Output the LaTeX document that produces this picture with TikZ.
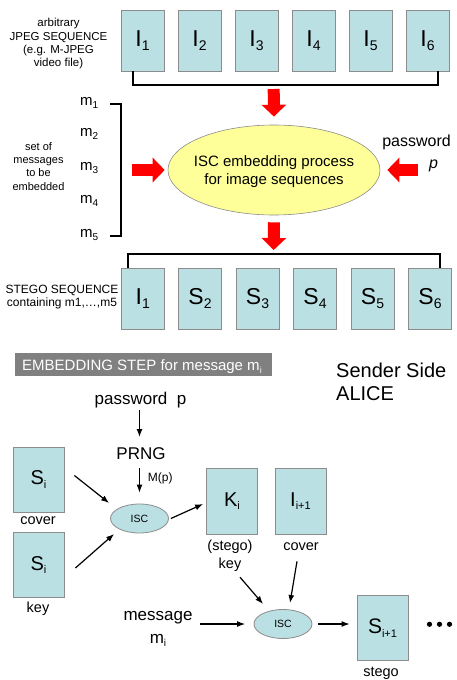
\documentclass[tikz,border=0pt]{standalone}
\usepackage{fontspec}
\setmainfont{Liberation Sans}
\usetikzlibrary{shapes.geometric,arrows.meta,calc}
\definecolor{boxfill}{HTML}{BBE0E3}
\definecolor{boxline}{HTML}{8C8C8C}
\definecolor{ellfill}{HTML}{FFFF99}
\definecolor{bannergray}{HTML}{808080}
\newcommand\fsz[1]{\fontsize{#1}{#1}\selectfont}
\newcommand\lbl[5]{{\fsz{#1}#2\raisebox{-#3pt}{\fsz{#4}#5}}}
\begin{document}
\begin{tikzpicture}[x=1pt,y=-1pt,
  txt/.style={inner sep=0pt, anchor=base},
  bigbox/.style={draw=boxline, fill=boxfill, line width=0.8pt, minimum width=43pt, minimum height=61pt, inner sep=0pt},
  smallbox/.style={draw=boxline, fill=boxfill, line width=0.8pt, minimum width=51pt, minimum height=65pt, inner sep=0pt},
  bracket/.style={line width=2pt},
  redblock/.style={draw=red, line width=12pt, -{Triangle[length=12pt,width=24pt]}},
  arr/.style={line width=1.2pt, -{Latex[length=8pt,width=6pt]}},
  iscell/.style={ellipse, draw=boxline, fill=boxfill, line width=0.8pt, minimum width=58pt, minimum height=29pt, inner sep=0pt, font=\fsz{10.5}},
  banner/.style={fill=bannergray, minimum width=257pt, minimum height=23pt, inner sep=0pt}
]
\useasboundingbox (0,0) rectangle (456,680);

% ---------- top sequence ----------
\foreach \i/\x in {1/142.5,2/199.5,3/256.5,4/313.5,5/370.5,6/427.5}
  \node[bigbox] (t\i) at (\x,40.5) {\lbl{23}{I}{4}{14}{\i}};
\draw[bracket] ([xshift=-10pt]t1.south) -- ++(0,14) -| ([xshift=10pt]t6.south);

\node[txt] (a1) at (58.5,27) {\fsz{11.5}arbitrary};
\node[txt] (a2) at (58.5,40.3) {\fsz{11.5}JPEG SEQUENCE};
\node[txt] (a3) at (58.5,53.6) {\fsz{11.5}(e.g. M-JPEG};
\node[txt] (a4) at (58.5,66.9) {\fsz{11.5}video file)};

% ---------- messages ----------
\foreach \k/\y in {1/105,2/136.7,3/170.7,4/203,5/237}
  \node[txt, anchor=base west] (m\k) at (80,\y) {\lbl{15}{m}{3}{10}{\k}};
\draw[bracket] (110,104) -- (121,104) -- (121,236) -- (110,236);
\node[txt] (b1) at (38.5,150) {\fsz{11}set of};
\node[txt] (b2) at (38.5,163.4) {\fsz{11}messages};
\node[txt] (b3) at (38.5,176.8) {\fsz{11}to be};
\node[txt] (b4) at (38.5,190.2) {\fsz{11}embedded};

% ---------- ISC process ----------
\node[ellipse, draw=boxline, fill=ellfill, line width=0.6pt, minimum width=212pt, minimum height=90pt, inner sep=0pt] (isc) at (274,170) {};
\node[txt] (isct1) at (274,166) {\fsz{15}ISC embedding process};
\node[txt] (isct2) at (274,184) {\fsz{15}for image sequences};

\node[txt] (pwr) at (416.5,146.7) {\fsz{16}password};
\node[txt] (pr) at (433.5,168.3) {\fsz{16}\itshape p};

\coordinate (d1s) at (273.7,89);
\coordinate (d2e) at (273.7,250);
\coordinate (r1s) at (131.7,170);
\coordinate (l1s) at (418,170);
\draw[redblock] (d1s) -- ([yshift=8pt]isc.north);
\draw[redblock] ([yshift=-7pt]isc.south) -- (d2e);
\draw[redblock] (r1s) -- ([xshift=-3pt]isc.west);
\draw[redblock] (l1s) -- ([xshift=7pt]isc.east);

% ---------- stego sequence ----------
\node[bigbox] (s1) at (142.7,298.5) {\lbl{23}{I}{4}{14}{1}};
\foreach \i/\x in {2/200,3/257.5,4/315,5/372.5,6/430}
  \node[bigbox] (s\i) at (\x,298.5) {\lbl{23}{S}{4}{14}{\i}};
\draw[bracket] ([xshift=-14.4pt]s1.north) -- ++(0,-14) -| ([xshift=10pt]s6.north);
\node[txt] (st1) at (62,293.3) {\fsz{12}STEGO SEQUENCE};
\node[txt] (st2) at (62,306.7) {\fsz{12}containing m1,…,m5};

% ---------- embedding step ----------
\node[banner] (ban) at (143.5,364.5) {};
\node[txt, anchor=base west, text=white] (bant) at (22,370) {\fsz{15}EMBEDDING STEP for message \lbl{15}{m}{3}{9}{i}};

\node[txt, anchor=base west] (sender) at (336,377) {\fsz{20}Sender Side};
\node[txt, anchor=base west] (alice) at (336,400.5) {\fsz{20}ALICE};

\node[txt] (pw) at (140.5,404.3) {\fsz{17}password~~p};
\node[txt] (prng) at (141,459.3) {\fsz{17}PRNG};
\node[txt, anchor=base west] (mp) at (147.7,481) {\fsz{12}M(p)};
\node[iscell] (isc1) at (139.5,518.5) {ISC};

\node[smallbox] (c1) at (38.5,479.5) {\lbl{20}{S}{3.5}{11}{i}};
\node[txt] (c1t) at (38,524) {\fsz{14.5}cover};
\node[smallbox] (k1) at (38.5,565) {\lbl{20}{S}{3.5}{11}{i}};
\node[txt] (k1t) at (38,612) {\fsz{14.5}key};

\node[smallbox, minimum height=66pt] (ki) at (232,501) {\lbl{20}{K}{3.5}{11}{i}};
\node[smallbox, minimum height=66pt] (ii) at (300.5,501) {\lbl{20}{I}{3.5}{11}{i+1}};
\node[txt] (skt1) at (230,550) {\fsz{14.5}(stego)};
\node[txt] (skt2) at (230,568) {\fsz{14.5}key};
\node[txt] (cov2) at (301,550) {\fsz{14.5}cover};

\node[iscell] (isc2) at (283,624) {ISC};
\node[txt] (msg) at (158,620) {\fsz{17}message};
\node[txt] (msgm) at (158,643) {\lbl{17}{m}{3.5}{10}{i}};
\node[smallbox] (si1) at (382.5,628) {\lbl{21}{S}{3.5}{11}{i+1}};
\node[txt] (stg) at (381,676) {\fsz{14.5}stego};
\foreach \x in {429.5,439.5,449.5} \fill (\x,624.3) circle (2.6pt);

% arrows
\coordinate (pwout) at (139.5,410);
\coordinate (prngin) at (139.5,437);
\coordinate (prngout) at (139.5,468);
\draw[arr] (pwout) -- (prngin);
\draw[arr] (prngout) -- ([yshift=11pt]isc1.north);
\draw[arr] ([shift={(10pt,4pt)}]c1.east) -- ([shift={(-1pt,15.5pt)}]isc1.west);
\draw[arr] ([shift={(11pt,-3pt)}]k1.east) -- ([shift={(4pt,-15.5pt)}]isc1.west);
\draw[arr] ([shift={(2pt,0pt)}]isc1.east) -- ([shift={(-3pt,-3pt)}]ki.west);
\draw[arr] ([shift={(10pt,-6pt)}]skt2.south) -- ([shift={(-20pt,20pt)}]isc2.center);
\draw[arr] ([shift={(-4pt,-11pt)}]cov2.south) -- ([shift={(7pt,21pt)}]isc2.center);
\coordinate (msgout) at (200,624);
\draw[arr, shorten >=8.5pt] (msgout) -- (isc2.west);
\draw[arr, shorten <=6pt, shorten >=7pt] (isc2.east) -- (isc2.east -| si1.west);
\end{tikzpicture}
\end{document}
